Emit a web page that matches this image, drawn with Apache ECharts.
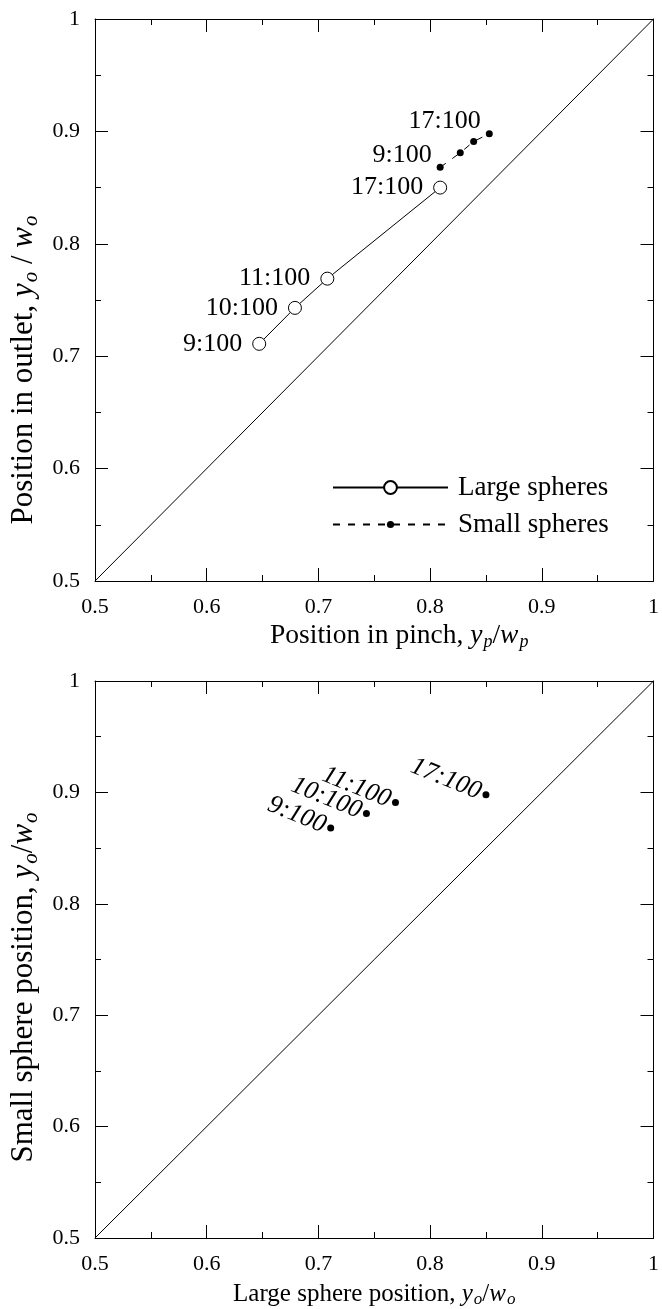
<!DOCTYPE html>
<html><head><meta charset="utf-8">
<script src="https://cdn.jsdelivr.net/npm/echarts@6/dist/echarts.min.js"></script>
<style>html,body{margin:0;padding:0;background:#fff}#c{width:662px;height:1309px}</style>
</head><body><div id="c"></div>
<script>
// ---- data ----
const ratios = ['9:100', '10:100', '11:100', '17:100'];
const largePinch  = [0.647, 0.679, 0.708, 0.809];
const largeOutlet = [0.711, 0.743, 0.769, 0.850];
const smallPinch  = [0.809, 0.827, 0.839, 0.853];
const smallOutlet = [0.868, 0.881, 0.891, 0.898];
const diagonal = [[0.5, 0.5], [1, 1]];
const axisMin = 0.5, axisMax = 1, axisStep = 0.1;

const FONT = "'Liberation Serif','Times New Roman',serif";
function makeRich(size) {
  return {
    i: {fontFamily: FONT, fontSize: size, fontStyle: 'italic', color: '#000'},
    s: {fontFamily: FONT, fontSize: Math.round(size * 0.67), fontStyle: 'italic', color: '#000',
        padding: [Math.round(size * 0.45), 0, 0, 1]},
    n: {fontFamily: FONT, fontSize: size, color: '#000'}
  };
}

function mkAxis(grid, pos, showLabel, name, gap, size, pad) {
  return {
    type: 'value', gridIndex: grid, position: pos,
    min: axisMin, max: axisMax, interval: axisStep,
    axisLine: {show: true, onZero: false, lineStyle: {color: '#000', width: 1}},
    axisTick: {show: true, inside: true, length: 13, lineStyle: {color: '#000', width: 1}},
    minorTick: {show: true, splitNumber: 2, length: 6, lineStyle: {color: '#000', width: 1}},
    splitLine: {show: false}, minorSplitLine: {show: false},
    axisLabel: {show: showLabel, color: '#000', fontFamily: FONT, fontSize: 22, margin: 15,
      formatter: v => String(+(+v).toFixed(1))},
    name: name || '', nameLocation: 'middle', nameGap: gap || 0,
    nameTextStyle: {fontFamily: FONT, fontSize: size || 27, color: '#000', rich: makeRich(size || 27),
      padding: pad || 0}
  };
}

const zip = (a, b) => a.map((x, i) => [x, b[i]]);

const option = {
  animation: false,
  backgroundColor: '#fff',
  grid: [
    {left: 95, top: 19, width: 562, height: 562},
    {left: 95, top: 681, width: 562, height: 561}
  ],
  xAxis: [
    mkAxis(0, 'bottom', true, 'Position in pinch, {i|y}{s|p}{n|/}{i|w}{s|p}', 40, 27.5, [0, 0, 0, 50]),
    mkAxis(0, 'top', false),
    mkAxis(1, 'bottom', true, 'Large sphere position, {i|y}{s|o}{n|/}{i|w}{s|o}', 42, 25, [0, 0, 0, 0]),
    mkAxis(1, 'top', false)
  ],
  yAxis: [
    mkAxis(0, 'left', true, 'Position in outlet, {i|y}{s|o}{n| / }{i|w}{s|o}', 51, 31, [0, 140, 0, 0]),
    mkAxis(0, 'right', false),
    mkAxis(1, 'left', true, 'Small sphere position, {i|y}{s|o}{n|/}{i|w}{s|o}', 51, 31, [0, 56, 0, 0]),
    mkAxis(1, 'right', false)
  ],
  legend: [
    {data: ['Large spheres'], left: 332, top: 474, padding: 0, itemWidth: 115, itemHeight: 16,
     selectedMode: false, textStyle: {fontFamily: FONT, fontSize: 27, color: '#000', padding: [0, 0, 0, 5]}},
    {data: ['Small spheres'], left: 332, top: 511, padding: 0, itemWidth: 115, itemHeight: 9,
     selectedMode: false, textStyle: {fontFamily: FONT, fontSize: 27, color: '#000', padding: [0, 0, 0, 5]}}
  ],
  series: [
    {type: 'line', name: 'diag1', xAxisIndex: 0, yAxisIndex: 0, data: diagonal, symbol: 'none',
     lineStyle: {color: '#000', width: 1}, silent: true},
    {type: 'line', name: 'Large spheres', xAxisIndex: 0, yAxisIndex: 0,
     data: zip(largePinch, largeOutlet), symbol: 'circle', symbolSize: 13,
     itemStyle: {color: '#fff', borderColor: '#000', borderWidth: 1},
     lineStyle: {color: '#000', width: 1, type: 'solid'},
     label: {show: true, position: 'left', distance: 10, color: '#000', fontFamily: FONT, fontSize: 26,
       formatter: p => ratios[p.dataIndex]}, z: 3},
    {type: 'line', name: 'Small spheres', xAxisIndex: 0, yAxisIndex: 0,
     data: smallPinch.map((x, i) => ({value: [x, smallOutlet[i]], label: {show: i === 0 || i === smallPinch.length - 1}})),
     symbol: 'circle', symbolSize: 7,
     itemStyle: {color: '#000'},
     lineStyle: {color: '#000', width: 1, type: [7, 8]},
     label: {position: 'left', distance: 5, offset: [0, -12], color: '#000', fontFamily: FONT, fontSize: 26,
       formatter: p => ratios[p.dataIndex]}, z: 3},
    {type: 'line', name: 'diag2', xAxisIndex: 2, yAxisIndex: 2, data: diagonal, symbol: 'none',
     lineStyle: {color: '#000', width: 1}, silent: true},
    {type: 'scatter', name: 'Sphere pairs', xAxisIndex: 2, yAxisIndex: 2,
     data: zip(largeOutlet, smallOutlet), symbol: 'circle', symbolSize: 7,
     itemStyle: {color: '#000', opacity: 1},
     label: {show: true, position: 'left', distance: 3, rotate: -22, offset: [0, -2], color: '#000',
       fontFamily: FONT, fontSize: 26, fontStyle: 'italic', formatter: p => ratios[p.dataIndex]}}
  ]
};

const chart = echarts.init(document.getElementById('c'), null, {renderer: 'canvas'});
chart.setOption(option);
</script>
</body></html>
